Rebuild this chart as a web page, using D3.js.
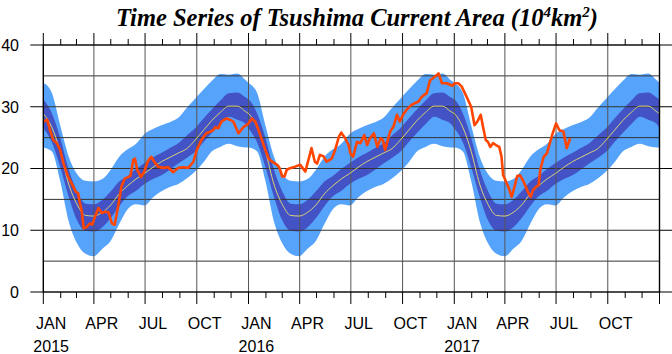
<!DOCTYPE html>
<html>
<head>
<meta charset="utf-8">
<script src="https://cdn.jsdelivr.net/npm/d3@7"></script>
<style>
  body { margin: 0; background: #fff; }
  text { font-family: "Liberation Sans", Arial, sans-serif; }
</style>
</head>
<body>
<svg id="chart" width="672" height="354"></svg>
<script>
// climatology (same every year), read at 15-day steps from Jan 1
const climDays = [0, 15, 30, 45, 60, 75, 90, 105, 120, 135, 150, 165, 180, 195, 210, 225, 240, 255, 270, 285, 300, 315, 330, 345, 360];
const climMean = [28.9, 26.7, 22.8, 17.5, 14.2, 12.4, 12.3, 12.9, 14.1, 15.9, 17.2, 18.3, 19.2, 20.2, 21.1, 21.8, 22.5, 23.2, 24.6, 26.2, 27.8, 29.1, 30.1, 30.1, 29.2];
const climInnerHi = [31.2, 29.0, 25.0, 19.9, 16.3, 14.3, 14.2, 14.9, 16.3, 17.9, 18.8, 19.9, 20.9, 21.8, 22.5, 23.3, 24.1, 25.3, 26.5, 28.1, 29.6, 31.0, 32.2, 32.3, 31.5];
const climInnerLo = [26.5, 24.3, 20.3, 15.5, 11.6, 9.9, 9.8, 10.5, 12.0, 13.9, 15.5, 16.4, 17.5, 18.3, 18.9, 19.8, 20.8, 21.7, 22.7, 24.3, 25.8, 27.2, 28.4, 27.9, 27.2];
const climOuterHi = [33.9, 32.3, 27.0, 22.0, 19.1, 18.0, 17.9, 18.3, 19.8, 21.9, 23.1, 24.0, 25.6, 26.4, 27.0, 27.5, 28.2, 29.8, 31.3, 32.8, 34.2, 35.3, 35.2, 35.4, 34.3];
const climOuterLo = [23.4, 22.8, 18.0, 11.5, 7.9, 6.2, 5.8, 7.0, 8.3, 11.0, 13.4, 14.2, 14.0, 15.3, 16.3, 17.0, 17.5, 18.4, 19.5, 21.0, 22.8, 23.5, 24.0, 23.6, 23.4];

// observed area (10^4 km^2)
const observed = [
  ['2015-01-01', 27.6], ['2015-01-08', 27.9], ['2015-01-13', 26.2], ['2015-01-19', 24.6],
  ['2015-01-25', 24.1], ['2015-01-31', 23.0], ['2015-02-06', 20.8], ['2015-02-14', 18.7],
  ['2015-02-23', 17.1], ['2015-02-28', 16.2], ['2015-03-04', 16.0], ['2015-03-07', 14.4],
  ['2015-03-10', 13.3], ['2015-03-14', 10.3], ['2015-03-19', 10.5], ['2015-03-25', 11.1],
  ['2015-03-29', 10.9], ['2015-04-03', 12.2], ['2015-04-09', 13.6], ['2015-04-15', 12.8],
  ['2015-04-21', 13.0], ['2015-04-27', 12.9], ['2015-05-03', 11.1], ['2015-05-08', 10.9],
  ['2015-05-14', 13.8], ['2015-05-20', 17.1], ['2015-05-26', 18.4], ['2015-06-01', 18.6],
  ['2015-06-05', 18.8], ['2015-06-10', 21.4], ['2015-06-13', 21.6], ['2015-06-17', 19.8],
  ['2015-06-24', 18.6], ['2015-06-30', 19.6], ['2015-07-06', 21.2], ['2015-07-12', 21.9],
  ['2015-07-18', 21.0], ['2015-07-24', 20.3], ['2015-08-02', 20.1], ['2015-08-11', 20.2],
  ['2015-08-20', 19.4], ['2015-08-29', 20.1], ['2015-09-07', 20.2], ['2015-09-16', 20.1],
  ['2015-09-25', 21.1], ['2015-10-01', 23.0], ['2015-10-09', 24.6], ['2015-10-18', 25.7],
  ['2015-10-24', 25.9], ['2015-10-30', 26.2], ['2015-11-03', 26.7], ['2015-11-08', 26.5],
  ['2015-11-14', 27.6], ['2015-11-23', 28.1], ['2015-11-29', 27.9], ['2015-12-05', 27.6],
  ['2015-12-14', 25.7], ['2015-12-23', 26.7], ['2015-12-31', 27.2], ['2016-01-07', 28.1],
  ['2016-01-13', 27.6], ['2016-01-19', 26.2], ['2016-01-25', 24.6], ['2016-01-31', 23.0],
  ['2016-02-06', 21.6], ['2016-02-12', 21.1], ['2016-02-21', 20.6], ['2016-02-25', 20.1],
  ['2016-03-01', 18.7], ['2016-03-05', 18.7], ['2016-03-09', 19.8], ['2016-03-16', 20.1],
  ['2016-03-24', 20.3], ['2016-04-02', 20.6], ['2016-04-06', 20.1], ['2016-04-11', 19.5],
  ['2016-04-18', 21.9], ['2016-04-22', 23.3], ['2016-04-28', 21.1], ['2016-05-02', 20.8],
  ['2016-05-07', 22.2], ['2016-05-13', 22.0], ['2016-05-19', 21.1], ['2016-05-28', 21.6],
  ['2016-06-03', 23.0], ['2016-06-10', 25.2], ['2016-06-14', 25.8], ['2016-06-21', 24.9],
  ['2016-06-27', 23.8], ['2016-06-30', 22.5], ['2016-07-05', 21.9], ['2016-07-12', 24.3],
  ['2016-07-18', 24.1], ['2016-07-25', 25.4], ['2016-07-30', 23.8], ['2016-08-04', 24.9],
  ['2016-08-11', 25.7], ['2016-08-17', 23.5], ['2016-08-23', 24.9], ['2016-08-27', 24.6],
  ['2016-08-31', 23.0], ['2016-09-09', 26.0], ['2016-09-15', 26.8], ['2016-09-21', 28.7],
  ['2016-09-26', 27.6], ['2016-10-02', 28.7], ['2016-10-08', 29.5], ['2016-10-17', 30.3],
  ['2016-10-23', 30.6], ['2016-10-29', 30.8], ['2016-11-04', 31.6], ['2016-11-13', 32.2],
  ['2016-11-19', 34.3], ['2016-11-28', 34.9], ['2016-12-04', 35.4], ['2016-12-10', 33.8],
  ['2016-12-19', 33.8], ['2016-12-28', 33.4], ['2017-01-02', 33.8], ['2017-01-08', 33.8],
  ['2017-01-14', 33.3], ['2017-01-23', 31.6], ['2017-01-31', 30.0], ['2017-02-06', 27.0],
  ['2017-02-11', 27.6], ['2017-02-17', 28.7], ['2017-02-21', 26.8], ['2017-02-26', 24.6],
  ['2017-03-02', 24.3], ['2017-03-06', 23.5], ['2017-03-11', 24.1], ['2017-03-16', 23.8],
  ['2017-03-22', 23.5], ['2017-03-26', 21.9], ['2017-03-29', 18.9], ['2017-04-03', 17.9],
  ['2017-04-08', 16.8], ['2017-04-13', 15.4], ['2017-04-18', 17.0], ['2017-04-23', 18.8],
  ['2017-04-28', 18.9], ['2017-05-03', 18.1], ['2017-05-08', 17.1], ['2017-05-13', 16.0],
  ['2017-05-17', 15.4], ['2017-05-21', 16.5], ['2017-05-26', 17.0], ['2017-05-31', 17.3],
  ['2017-06-03', 19.8], ['2017-06-09', 21.9], ['2017-06-15', 22.5], ['2017-06-18', 23.5],
  ['2017-06-25', 25.7], ['2017-07-01', 27.3], ['2017-07-07', 26.2], ['2017-07-14', 26.0],
  ['2017-07-20', 23.3], ['2017-07-26', 24.9]
];

const years = [2015, 2016, 2017];
const monthNames = ['JAN', 'APR', 'JUL', 'OCT'];
const yTicks = [0, 10, 20, 30, 40];
const yGrid = [5, 10, 15, 20, 25, 30, 35];

const svg = d3.select('#chart');
const plotL = 43.3, plotR = 659.5, plotT = 45, plotB = 292;

const x = d3.scaleUtc()
  .domain([Date.UTC(2015, 0, 1), Date.UTC(2018, 0, 1)])
  .range([plotL, plotR]);
const y = d3.scaleLinear().domain([0, 40]).range([plotB, plotT]);

// expand climatology over the three years
const clim = [];
years.forEach(yr => {
  climDays.forEach((d, i) => {
    clim.push({
      date: d3.utcDay.offset(new Date(Date.UTC(yr, 0, 1)), d),
      mean: climMean[i], ih: climInnerHi[i], il: climInnerLo[i],
      oh: climOuterHi[i], ol: climOuterLo[i]
    });
  });
});
clim.push({
  date: new Date(Date.UTC(2018, 0, 1)),
  mean: climMean[0], ih: climInnerHi[0], il: climInnerLo[0],
  oh: climOuterHi[0], ol: climOuterLo[0]
});

const parse = d3.utcParse('%Y-%m-%d');
const obs = observed.map(([d, v]) => ({ date: parse(d), v }));

svg.append('clipPath').attr('id', 'plot-clip')
  .append('rect').attr('x', plotL).attr('y', plotT)
  .attr('width', plotR - plotL).attr('height', plotB - plotT);

const plot = svg.append('g').attr('clip-path', 'url(#plot-clip)');

const band = (hi, lo) => d3.area()
  .x(d => x(d.date)).y0(d => y(d[lo])).y1(d => y(d[hi]))
  .curve(d3.curveMonotoneX);

plot.append('path').datum(clim)
  .attr('d', band('oh', 'ol')).attr('fill', '#55a3fb');
plot.append('path').datum(clim)
  .attr('d', band('ih', 'il')).attr('fill', '#4352c4');

// grid on top of the bands
plot.selectAll('.hgrid').data(yGrid).enter().append('line')
  .attr('x1', plotL).attr('x2', plotR)
  .attr('y1', d => y(d)).attr('y2', d => y(d))
  .attr('stroke', '#333').attr('stroke-width', 1);

const months = d3.utcMonth.range(new Date(Date.UTC(2015, 0, 1)), new Date(Date.UTC(2018, 0, 2)));
const quarters = months.filter(d => d.getUTCMonth() % 3 === 0);

plot.selectAll('.vgrid').data(quarters).enter().append('line')
  .attr('x1', d => x(d)).attr('x2', d => x(d))
  .attr('y1', plotT).attr('y2', plotB)
  .attr('stroke', '#555').attr('stroke-width', 1);

plot.append('path').datum(clim)
  .attr('d', d3.line().x(d => x(d.date)).y(d => y(d.mean)).curve(d3.curveMonotoneX))
  .attr('fill', 'none').attr('stroke', '#d9d27a').attr('stroke-width', 1);

plot.append('path').datum(obs)
  .attr('d', d3.line().x(d => x(d.date)).y(d => y(d.v)))
  .attr('fill', 'none').attr('stroke', '#ff4500')
  .attr('stroke-width', 2.6).attr('stroke-linejoin', 'round');

// frame and ticks
svg.append('rect')
  .attr('x', plotL).attr('y', plotT)
  .attr('width', plotR - plotL).attr('height', plotB - plotT)
  .attr('fill', 'none').attr('stroke', '#000').attr('stroke-width', 1.4);

const tickG = svg.append('g').attr('stroke', '#000').attr('stroke-width', 1);
months.forEach(d => {
  const major = d.getUTCMonth() % 3 === 0;
  const len = major ? 12 : 6;
  tickG.append('line').attr('x1', x(d)).attr('x2', x(d)).attr('y1', plotB).attr('y2', plotB + len);
  tickG.append('line').attr('x1', x(d)).attr('x2', x(d)).attr('y1', plotT).attr('y2', plotT - len);
});
yTicks.forEach(v => {
  tickG.append('line').attr('x1', plotL - 13).attr('x2', plotL).attr('y1', y(v)).attr('y2', y(v));
  tickG.append('line').attr('x1', plotR).attr('x2', plotR + 13).attr('y1', y(v)).attr('y2', y(v));
});

svg.selectAll('.ylab').data(yTicks).enter().append('text')
  .attr('x', 19).attr('y', d => y(d)).attr('dy', '0.36em')
  .attr('text-anchor', 'end').attr('font-size', 16)
  .text(d => d);

svg.selectAll('.xlab').data(quarters.filter(d => d < x.domain()[1])).enter().append('text')
  .attr('x', d => x(d3.utcDay.offset(d, 14)))
  .attr('y', 329).attr('text-anchor', 'middle').attr('font-size', 16)
  .text(d => monthNames[d.getUTCMonth() / 3]);

svg.selectAll('.yrlab').data(years).enter().append('text')
  .attr('x', d => x(new Date(Date.UTC(d, 0, 15))))
  .attr('y', 352).attr('text-anchor', 'middle').attr('font-size', 16)
  .text(d => d);

// title
const title = svg.append('text')
  .attr('x', 357).attr('y', 26)
  .attr('text-anchor', 'middle')
  .style('font-family', '"Liberation Serif", "Times New Roman", serif')
  .style('font-weight', 'bold').style('font-style', 'italic')
  .attr('font-size', 24.5);
title.append('tspan').text('Time Series of Tsushima Current Area (10');
title.append('tspan').attr('dy', -9).attr('font-size', 15).text('4');
title.append('tspan').attr('dy', 9).text('km');
title.append('tspan').attr('dy', -9).attr('font-size', 15).text('2');
title.append('tspan').attr('dy', 9).text(')');
</script>
</body>
</html>
